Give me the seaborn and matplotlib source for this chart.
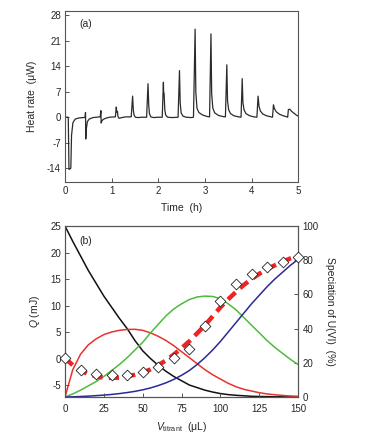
import numpy as np
import pandas as pd
import matplotlib
matplotlib.use("Agg")
import matplotlib.pyplot as plt
import seaborn as sns

# ---- panel (a): raw thermogram ----
time_h = [
    0.00, 0.07, 0.085, 0.095, 0.125, 0.14, 0.17, 0.22, 0.30, 0.43,
    0.44, 0.445, 0.46, 0.48, 0.52, 0.60, 0.755,
    0.77, 0.775, 0.79, 0.82, 0.87, 0.95, 1.08,
    1.10, 1.11, 1.125, 1.135, 1.16, 1.22, 1.30, 1.42,
    1.45, 1.465, 1.48, 1.51, 1.56, 1.65, 1.75,
    1.78, 1.795, 1.81, 1.84, 1.90, 2.00, 2.085,
    2.11, 2.115, 2.125, 2.14, 2.16, 2.20, 2.30, 2.425,
    2.455, 2.47, 2.49, 2.53, 2.60, 2.70, 2.755,
    2.79, 2.805, 2.83, 2.87, 2.95, 3.05, 3.10,
    3.13, 3.145, 3.17, 3.21, 3.29, 3.38, 3.44,
    3.47, 3.485, 3.51, 3.55, 3.62, 3.72, 3.775,
    3.80, 3.815, 3.84, 3.88, 3.96, 4.05, 4.115,
    4.14, 4.16, 4.19, 4.24, 4.32, 4.42, 4.45,
    4.47, 4.49, 4.53, 4.60, 4.68, 4.76, 4.775,
    4.79, 4.82, 4.86, 4.92, 4.97, 5.00,
]
heat_uw = [
    0.0, 0.0, -14.3, -14.3, -14.0, -5.0, -1.5, -0.5, -0.2, -0.05,
    1.3, -6.0, -3.0, -1.2, -0.5, -0.1, 0.1,
    1.8, -1.6, -1.0, -0.6, -0.3, 0.0, 0.1,
    2.8, 1.4, 1.6, 0.2, -0.3, -0.1, 0.1, 0.1,
    5.8, 2.0, 0.6, 0.0, -0.1, 0.0, 0.0,
    9.2, 3.5, 1.0, 0.1, -0.1, 0.0, 0.0,
    9.6, 7.0, 6.5, 2.0, 0.6, 0.0, -0.1, 0.0,
    12.8, 4.0, 1.2, 0.3, 0.0, -0.1, 0.0,
    24.2, 7.0, 2.5, 1.3, 0.6, 0.2, 0.1,
    22.9, 6.5, 2.5, 1.2, 0.5, 0.2, 0.1,
    14.4, 4.5, 2.0, 1.0, 0.4, 0.1, 0.0,
    10.6, 4.0, 2.0, 1.0, 0.4, 0.1, 0.0,
    5.8, 3.0, 1.7, 0.9, 0.4, 0.1, 0.0,
    3.4, 2.4, 1.5, 0.8, 0.4, 0.1, 0.0,
    2.1, 2.2, 1.6, 1.0, 0.5, 0.3,
]

# ---- panel (b): speciation curves (%) and integrated heat (mJ) ----
v_curve = list(range(0, 155, 5))
spec_black = [100, 91, 82.5, 74, 66.5, 59, 52.5, 46, 40, 33, 27, 22.5, 18.5,
              15, 12, 9.5, 7, 5.5, 4, 2.9, 2, 1.4, 1, 0.7, 0.4, 0.3, 0.2,
              0.1, 0.1, 0, 0]
spec_red = [0, 16, 25, 30.5, 34, 36.5, 38, 39, 39.5, 39.6, 39, 37.5, 35.5,
            33, 30, 26.5, 23, 19.5, 16, 13, 10.5, 8, 6, 4.5, 3.5, 2.5, 1.8,
            1.3, 0.9, 0.6, 0.4]
spec_green = [0, 1.8, 4, 6.5, 9, 12, 15.5, 19, 23, 27.5, 32, 37.5, 42.5,
              47.5, 51.5, 54.5, 57, 58.5, 59, 58.8, 57.5, 54.5, 51, 46.5, 42,
              37.5, 33, 29, 25.5, 22, 19]
spec_blue = [0, 0.1, 0.3, 0.5, 0.8, 1.1, 1.5, 2, 2.6, 3.3, 4.2, 5.3, 6.7,
             8.3, 10.3, 12.7, 15.5, 19, 23, 27.5, 32.5, 38, 43.5, 49, 54.5,
             59.5, 64.5, 69, 73, 77, 80.5]
q_fit = [0.1, -1.2, -2.2, -2.9, -3.3, -3.55, -3.6, -3.55, -3.35, -3.0, -2.6,
         -2.0, -1.2, -0.3, 0.8, 2.0, 3.3, 4.8, 6.3, 8.0, 9.7, 11.2, 12.6,
         13.9, 15.0, 16.0, 16.9, 17.6, 18.3, 18.9, 19.4]

v_exp = [0, 10, 20, 30, 40, 50, 60, 70, 80, 90, 100, 110, 120, 130, 140, 150]
q_exp = [0.1, -2.1, -2.9, -3.0, -3.0, -2.5, -1.5, 0.1, 1.8, 6.2, 10.8, 14.1,
         16.0, 17.2, 18.2, 19.1]

sns.set_style("ticks")
plt.rcParams["font.family"] = ["Liberation Sans", "DejaVu Sans"]
plt.rcParams["mathtext.fontset"] = "custom"
plt.rcParams["mathtext.rm"] = "Liberation Sans"
plt.rcParams["mathtext.it"] = "Liberation Sans:italic"
plt.rcParams["axes.unicode_minus"] = False
plt.rcParams["font.size"] = 7

spine_col = "#555555"
fs = 7
lfs = 7.5

fig = plt.figure(figsize=(3.81, 4.38), dpi=100)
ax_a = fig.add_axes([0.1706, 0.5845, 0.612, 0.3905])
ax_b = fig.add_axes([0.1706, 0.0936, 0.612, 0.3904])


def style_axis(ax, xpad=3):
    for sp in ax.spines.values():
        sp.set_color(spine_col)
        sp.set_linewidth(0.8)
    ax.tick_params(direction="in", length=3, width=0.7, color=spine_col,
                   labelsize=fs, pad=3, right=False, top=False)
    ax.tick_params(axis="x", pad=xpad)


# panel (a)
thermo = pd.DataFrame({"t": time_h, "q": heat_uw})
sns.lineplot(data=thermo, x="t", y="q", ax=ax_a, color="#2b2b2b",
             linewidth=0.9, sort=False, estimator=None)
ax_a.set_xlim(0, 5)
ax_a.set_ylim(-17.8, 29.2)
ax_a.set_yticks([-14, -7, 0, 7, 14, 21, 28])
ax_a.set_xticks([0, 1, 2, 3, 4, 5])
ax_a.set_xlabel("Time  (h)", fontsize=lfs, labelpad=5)
ax_a.set_ylabel("Heat rate  (\u03bcW)", fontsize=lfs, labelpad=7)
ax_a.text(0.06, 0.955, "(a)", transform=ax_a.transAxes, fontsize=lfs,
          va="top", ha="left")
style_axis(ax_a)

# panel (b)
ax_r = ax_b.twinx()
spec = pd.DataFrame({"v": v_curve, "black": spec_black, "red": spec_red,
                     "green": spec_green, "blue": spec_blue})
line_cols = {"black": "#111111", "red": "#e8322a", "green": "#4dbb3c",
             "blue": "#2a2a96"}
for name, col in line_cols.items():
    sns.lineplot(data=spec, x="v", y=name, ax=ax_r, color=col,
                 linewidth=1.1, estimator=None)
ax_r.set_ylim(0, 100)
ax_r.set_yticks([0, 20, 40, 60, 80, 100])
ax_r.set_ylabel("Speciation of U(VI)  (%)", fontsize=lfs,
                rotation=270, labelpad=12)
for sp in ax_r.spines.values():
    sp.set_color(spine_col)
    sp.set_linewidth(0.8)
ax_r.tick_params(direction="in", length=3, width=0.7, color=spine_col,
                 labelsize=fs, pad=3)

fit = pd.DataFrame({"v": v_curve, "q": q_fit})
sns.lineplot(data=fit, x="v", y="q", ax=ax_b, color="#ee2424",
             linewidth=3.2, linestyle=(0, (2.3, 1.4)), estimator=None)
exp = pd.DataFrame({"v": v_exp, "q": q_exp})
sns.scatterplot(data=exp, x="v", y="q", ax=ax_b, marker="D", s=30,
                facecolor="white", edgecolor="#222222", linewidth=0.6,
                zorder=5, clip_on=False)
ax_b.set_zorder(ax_r.get_zorder() + 1)
ax_b.patch.set_visible(False)
ax_b.set_xlim(0, 150)
ax_b.set_ylim(-7.2, 25)
ax_b.set_yticks([-5, 0, 5, 10, 15, 20, 25])
ax_b.set_xticks([0, 25, 50, 75, 100, 125, 150])
ax_b.set_xlabel(r"$V_{\mathrm{titrant}}$  ($\mathrm{\mu}$L)", fontsize=lfs,
                labelpad=4)
ax_b.set_ylabel(r"$Q$ (mJ)", fontsize=lfs, labelpad=6)
ax_b.text(0.06, 0.94, "(b)", transform=ax_b.transAxes, fontsize=lfs,
          va="top", ha="left")
style_axis(ax_b, xpad=5)

fig.savefig("out.png", dpi=100)
